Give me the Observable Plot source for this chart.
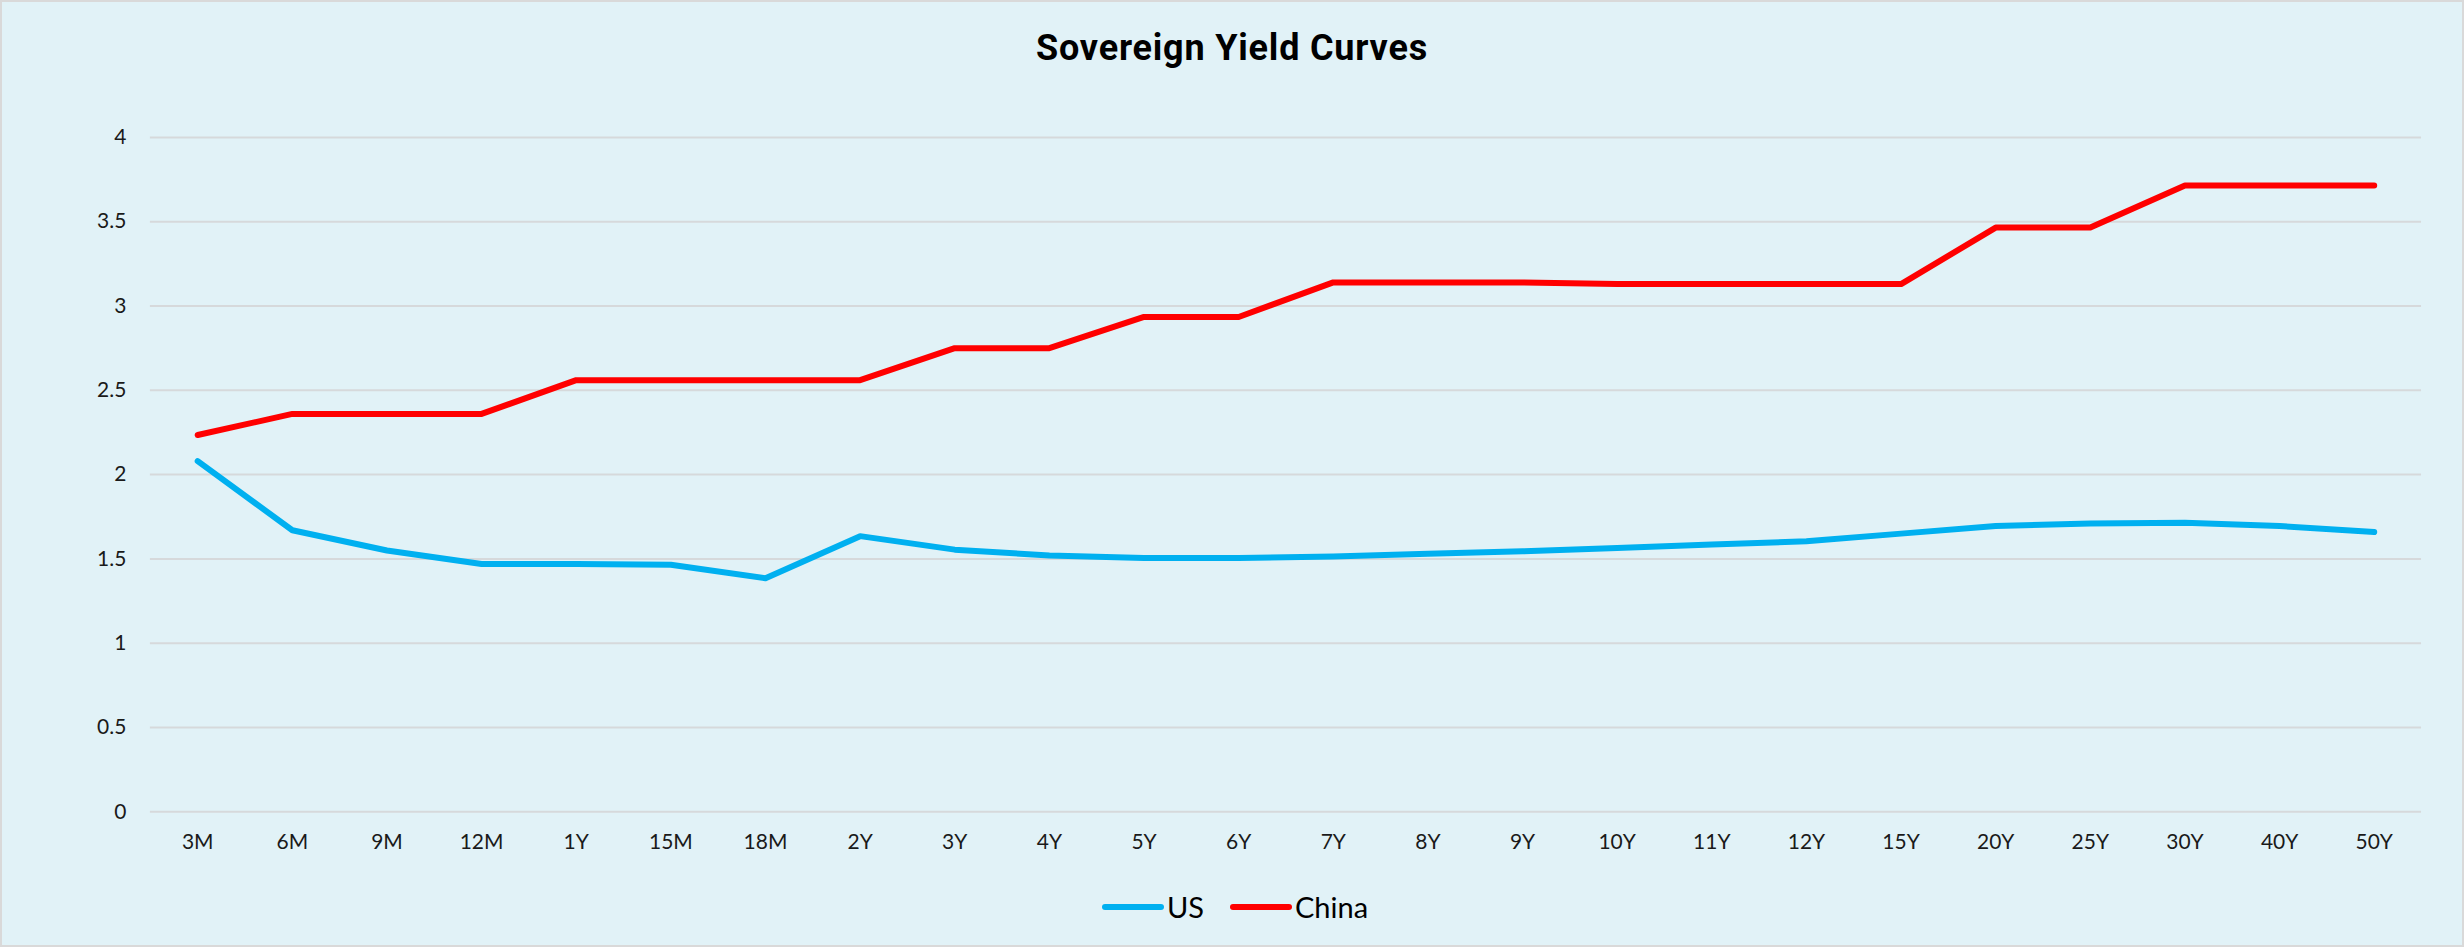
<!DOCTYPE html>
<html>
<head>
<meta charset="utf-8">
<script src="https://cdn.jsdelivr.net/npm/d3@7"></script>
<script src="https://cdn.jsdelivr.net/npm/@observablehq/plot@0.6"></script>
<style>
  html, body { margin: 0; padding: 0; background: #ffffff; }
  #chart {
    position: relative; width: 2464px; height: 947px; box-sizing: border-box;
    background: #E1F2F7; border: 2px solid #D9D9D9; overflow: hidden;
  }
  #title {
    position: absolute; left: 0; right: 0; top: 23px; text-align: center;
    font-family: Roboto, "DejaVu Sans", sans-serif; font-weight: 700; font-size: 36px;
    line-height: 46px; color: #000; letter-spacing: 0.8px;
  }
  #plot { position: absolute; left: -2px; top: -2px; }
  #legend {
    position: absolute; left: 6px; right: 0; top: 887px; display: flex; justify-content: center;
    align-items: center; font-family: Lato, "Noto Sans", sans-serif; font-size: 29px; color: #000;
  }
  .item { display: flex; align-items: center; margin: 0 13px; }
  .item svg { margin-right: 3px; }
</style>
</head>
<body>
<div id="chart">
  <div id="title"></div>
  <div id="plot"></div>
  <div id="legend"></div>
</div>
<script>
const titleText = "Sovereign Yield Curves";
const tenors = ["3M","6M","9M","12M","1Y","15M","18M","2Y","3Y","4Y","5Y","6Y","7Y","8Y","9Y","10Y","11Y","12Y","15Y","20Y","25Y","30Y","40Y","50Y"];
const usYields = [2.08, 1.67, 1.55, 1.47, 1.47, 1.465, 1.385, 1.635, 1.555, 1.52, 1.505, 1.505, 1.515, 1.53, 1.545, 1.565, 1.585, 1.605, 1.65, 1.695, 1.71, 1.715, 1.695, 1.66];
const chinaYields = [2.235, 2.36, 2.36, 2.36, 2.56, 2.56, 2.56, 2.56, 2.75, 2.75, 2.935, 2.935, 3.14, 3.14, 3.14, 3.13, 3.13, 3.13, 3.13, 3.465, 3.465, 3.715, 3.715, 3.715];
const seriesNames = ["US", "China"];
const seriesColors = ["#00B0F0", "#FF0000"];
const yTicks = [0, 0.5, 1, 1.5, 2, 2.5, 3, 3.5, 4];

const rows = [];
tenors.forEach((t, i) => {
  rows.push({tenor: t, series: "US", value: usYields[i]});
  rows.push({tenor: t, series: "China", value: chinaYields[i]});
});

document.getElementById("title").textContent = titleText;

const plot = Plot.plot({
  width: 2464,
  height: 880,
  marginLeft: 150,
  marginRight: 41,
  marginTop: 137,
  marginBottom: 68,
  style: {background: "transparent", fontFamily: "Lato, 'Noto Sans', sans-serif", fontSize: "21px", color: "#1a1a1a"},
  x: {type: "point", domain: tenors, padding: 0.5, round: false, label: null},
  y: {domain: [0, 4], ticks: yTicks, label: null},
  color: {domain: seriesNames, range: seriesColors},
  marks: [
    Plot.ruleY(yTicks, {stroke: "#D6D9DB", strokeWidth: 2}),
    Plot.axisY({ticks: yTicks, tickSize: 0, tickPadding: 24, label: null, tickFormat: d => String(d)}),
    Plot.axisX({tickSize: 0, tickPadding: 22, label: null}),
    Plot.line(rows, {x: "tenor", y: "value", z: "series", stroke: "series", strokeWidth: 6, strokeLinecap: "round", strokeLinejoin: "round"})
  ]
});
document.getElementById("plot").appendChild(plot);

const legend = document.getElementById("legend");
seriesNames.forEach((name, i) => {
  const item = document.createElement("div");
  item.className = "item";
  item.innerHTML = `<svg width="62" height="12"><line x1="3" y1="6" x2="59" y2="6" stroke="${seriesColors[i]}" stroke-width="6" stroke-linecap="round"/></svg><span>${name}</span>`;
  legend.appendChild(item);
});
</script>
</body>
</html>
